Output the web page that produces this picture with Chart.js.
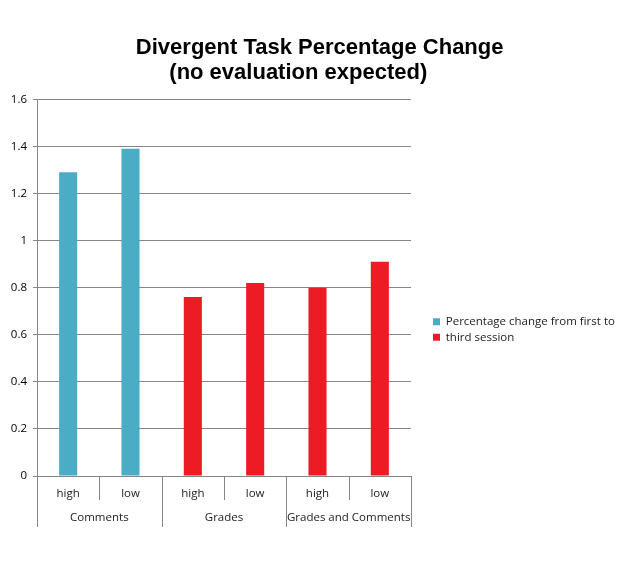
<!DOCTYPE html>
<html>
<head>
<meta charset="utf-8">
<script src="https://cdn.jsdelivr.net/npm/chart.js@4.4.0/dist/chart.umd.min.js"></script>
<style>
  html, body { margin: 0; padding: 0; background: #fff; }
  #wrap { width: 621px; height: 563px; position: relative; }
</style>
</head>
<body>
<div id="wrap"><canvas id="divChart"></canvas></div>
<script>
// --- данные ---
const groups = ['Comments', 'Grades', 'Grades and Comments'];
const levels = ['high', 'low'];
const categories = ['high', 'low', 'high', 'low', 'high', 'low'];
const seriesFirst = [1.29, 1.39, null, null, null, null];   // бирюзовые
const seriesThird = [null, null, 0.76, 0.82, 0.80, 0.91];   // красные
const yTicks = [0, 0.2, 0.4, 0.6, 0.8, 1, 1.2, 1.4, 1.6];

const GRID = '#868686';
const LABEL_FONT = { family: 'Open Sans', size: 11.5 };

// подписи групп и разделители под осью X
const groupAxis = {
    id: 'groupAxis',
    afterDraw(chart) {
        const xs = chart.scales.x;
        const c = chart.ctx;
        const half = (xs.getPixelForValue(1) - xs.getPixelForValue(0)) / 2;
        const base = chart.chartArea.bottom;
        c.save();
        c.strokeStyle = GRID;
        c.lineWidth = 1;
        for (let i = 0; i <= categories.length; i++) {
            const x = Math.round(xs.getPixelForValue(0) - half + i * half * 2) + 0.5;
            const end = i % levels.length === 0 ? base + 51 : base + 24;
            c.beginPath();
            c.moveTo(x, base);
            c.lineTo(x, end);
            c.stroke();
        }
        c.fillStyle = '#222';
        c.font = '11.5px "Open Sans"';
        c.textAlign = 'center';
        c.textBaseline = 'middle';
        groups.forEach((g, k) => {
            const a = xs.getPixelForValue(k * 2);
            const b = xs.getPixelForValue(k * 2 + 1);
            c.fillText(g, (a + b) / 2, base + 42);
        });
        c.restore();
    }
};

// заголовок по всей ширине, легенда справа как на картинке
const placeBoxes = {
    id: 'placeBoxes',
    afterLayout(chart) {
        const tb = chart.titleBlock;
        tb.left = 0;
        tb.right = chart.width;
        tb.width = chart.width;

        const lg = chart.legend;
        lg.left = chart.chartArea.right + 18;
        lg.width = chart.width - lg.left;
        lg.right = chart.width;
        const colH = lg.columnSizes && lg.columnSizes[0] ? lg.columnSizes[0].height : 30;
        const y0 = 316;
        lg.top = y0 - 4;
        lg.bottom = lg.top + 4 + colH;
        lg.height = lg.bottom - lg.top;
    }
};

const ctx = document.getElementById('divChart').getContext('2d');
new Chart(ctx, {
    type: 'bar',
    data: {
        labels: categories,
        datasets: [{
            label: 'Percentage change from first to',
            data: seriesFirst,
            backgroundColor: '#4BACC6',
            grouped: false
        }, {
            label: 'third session',
            data: seriesThird,
            backgroundColor: '#ED1C24',
            grouped: false
        }]
    },
    options: {
        responsive: true,
        maintainAspectRatio: false,
        animation: false,
        datasets: {
            bar: { categoryPercentage: 1, barPercentage: 0.29 }
        },
        layout: { padding: { left: 0, right: 73, top: 0, bottom: 36 } },
        plugins: {
            tooltip: { enabled: false },
            title: {
                display: true,
                text: ['   Divergent Task Percentage Change', '(no evaluation expected)    '],
                color: '#000',
                font: { family: 'Liberation Sans', size: 22, weight: 'bold', lineHeight: 1.12 },
                padding: { top: 36, bottom: 14 }
            },
            legend: {
                position: 'right',
                labels: {
                    boxWidth: 7,
                    boxHeight: 7,
                    padding: 4,
                    color: '#222',
                    font: LABEL_FONT
                }
            }
        },
        scales: {
            x: {
                grid: { display: false },
                border: { display: true, color: GRID },
                ticks: { color: '#222', font: LABEL_FONT, padding: 3, maxRotation: 0 },
                afterFit: (s) => { s.height = 51; }
            },
            y: {
                min: 0,
                max: 1.6,
                afterBuildTicks: (s) => { s.ticks = yTicks.map(v => ({ value: v })); },
                grid: { color: GRID, tickLength: 4, tickColor: GRID },
                border: { display: true, color: GRID },
                ticks: {
                    color: '#000', font: LABEL_FONT, padding: 6,
                    callback: (v) => String(Math.round(v * 10) / 10)
                },
                afterFit: (s) => { s.width = 37; }
            }
        }
    },
    plugins: [groupAxis, placeBoxes]
});
</script>
</body>
</html>
